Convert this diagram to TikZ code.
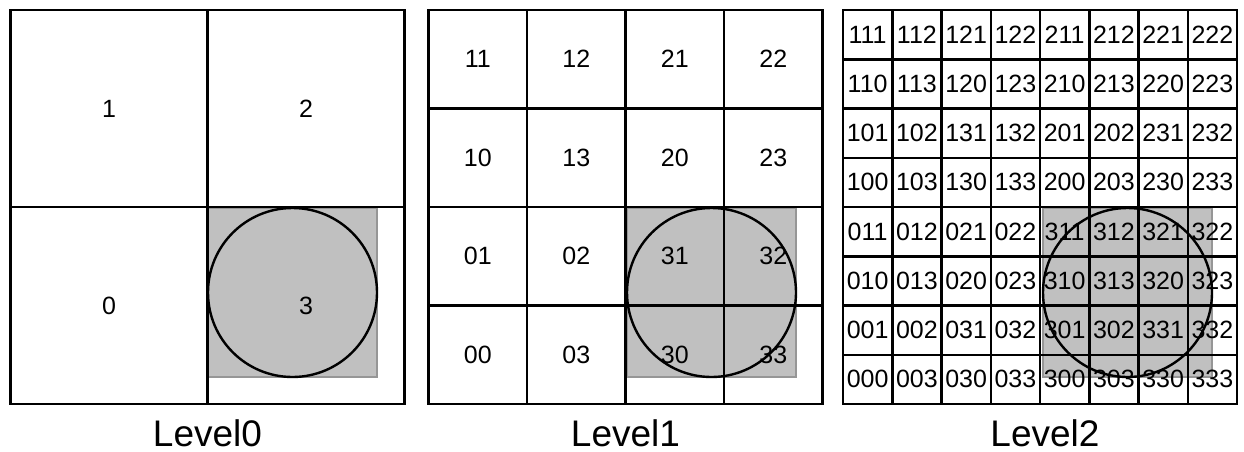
\documentclass[tikz,border=0pt]{standalone}
\usepackage{fontspec}
\setmainfont{Liberation Sans}
\definecolor{shade}{RGB}{192,192,192}
\definecolor{shadeborder}{RGB}{150,150,150}
\begin{document}
\begin{tikzpicture}[x=1pt,y=-1pt,
  cell/.style={draw=black, line width=2.5pt, inner sep=0pt, font=\fontsize{25}{25}\selectfont},
  hilite/.style={fill=shade, draw=shadeborder, line width=2.2pt, inner sep=0pt, minimum size=169pt},
  query/.style={draw=black, line width=2.4pt, circle, inner sep=0pt, minimum size=169pt},
  levellabel/.style={font=\fontsize{37}{37}\selectfont, inner sep=0pt}]
\useasboundingbox (0,0) rectangle (1244,451);
% highlighted squares
\node[hilite] (h0) at (292.5,292.5) {};
\node[hilite] (h1) at (711.5,292.5) {};
\node[hilite] (h2) at (1127.5,292.5) {};
% Level 0
\foreach \row [count=\r from 0] in {{1,2},{0,3}} {
  \foreach \lab [count=\c from 0] in \row {
    \node[cell, minimum width=197pt, minimum height=197pt] (ga-\r-\c)
      at ({10.5+197*(\c+0.5)},{10+197*(\r+0.5)}) {\lab};
  }
}
% Level 1
\foreach \row [count=\r from 0] in {{11,12,21,22},{10,13,20,23},{01,02,31,32},{00,03,30,33}} {
  \foreach \lab [count=\c from 0] in \row {
    \node[cell, minimum width=98.5pt, minimum height=98.5pt] (gb-\r-\c)
      at ({428.5+98.5*(\c+0.5)},{10+98.5*(\r+0.5)}) {\lab};
  }
}
% Level 2
\foreach \row [count=\r from 0] in {
  {111,112,121,122,211,212,221,222},
  {110,113,120,123,210,213,220,223},
  {101,102,131,132,201,202,231,232},
  {100,103,130,133,200,203,230,233},
  {011,012,021,022,311,312,321,322},
  {010,013,020,023,310,313,320,323},
  {001,002,031,032,301,302,331,332},
  {000,003,030,033,300,303,330,333}} {
  \foreach \lab [count=\c from 0] in \row {
    \node[cell, minimum width=49.25pt, minimum height=49.25pt] (gc-\r-\c)
      at ({843+49.25*(\c+0.5)},{10+49.25*(\r+0.5)}) {\lab};
  }
}
% query circles
\node[query] (q0) at (h0) {};
\node[query] (q1) at (h1) {};
\node[query] (q2) at (h2) {};
% level labels
\node[levellabel] (l0) at (207.5,433) {Level0};
\node[levellabel] (l1) at (625.5,433) {Level1};
\node[levellabel] (l2) at (1045,433) {Level2};
\end{tikzpicture}
\end{document}
